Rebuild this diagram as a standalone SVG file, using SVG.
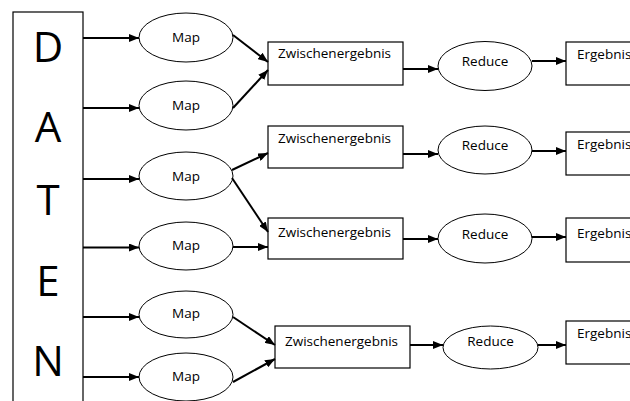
<svg xmlns="http://www.w3.org/2000/svg" width="630" height="401" viewBox="0 0 630 401">
<style>
.box{fill:#fff;stroke:#000;stroke-width:1.2}
.ell{fill:#fff;stroke:#000;stroke-width:1}
.big{font-family:"Open Sans","Liberation Sans",sans-serif;font-size:42px;fill:#000;text-anchor:middle}
.t{font-family:"Open Sans","Liberation Sans",sans-serif;font-size:13.5px;fill:#000}
.c{text-anchor:middle}
.con line{stroke:#000;stroke-width:2;marker-end:url(#ah)}
</style>
<defs>
<marker id="ah" viewBox="0 0 10 8" refX="10" refY="4" markerWidth="10" markerHeight="8" markerUnits="userSpaceOnUse" orient="auto">
<path d="M0,0 L10,4 L0,8 z" fill="#000"/>
</marker>
</defs>
<rect width="630" height="401" fill="#fff"/>
<g id="daten">
<rect class="box" x="13" y="12" width="70" height="400"/>
<text class="big" x="48" y="62">D</text>
<text class="big" x="48" y="142">A</text>
<text class="big" x="48" y="215">T</text>
<text class="big" x="48" y="296">E</text>
<text class="big" x="48" y="376">N</text>
</g>
<g id="map1"><ellipse class="ell" cx="186" cy="37.5" rx="47" ry="24.5"/><text class="t c" x="186" y="42">Map</text></g>
<g id="map2"><ellipse class="ell" cx="186" cy="105.5" rx="47" ry="24.5"/><text class="t c" x="186" y="110">Map</text></g>
<g id="map3"><ellipse class="ell" cx="186" cy="176" rx="47" ry="24"/><text class="t c" x="186" y="181">Map</text></g>
<g id="map4"><ellipse class="ell" cx="186" cy="246" rx="47" ry="24"/><text class="t c" x="186" y="250">Map</text></g>
<g id="map5"><ellipse class="ell" cx="186" cy="314.5" rx="47" ry="23.5"/><text class="t c" x="186" y="318">Map</text></g>
<g id="map6"><ellipse class="ell" cx="186" cy="377" rx="47" ry="24"/><text class="t c" x="186" y="381">Map</text></g>
<g id="zw1"><rect class="box" x="268" y="42" width="135" height="43"/><text class="t" x="278" y="58">Zwischenergebnis</text></g>
<g id="zw2"><rect class="box" x="268" y="126" width="135" height="42"/><text class="t" x="278" y="143">Zwischenergebnis</text></g>
<g id="zw3"><rect class="box" x="268" y="218" width="135" height="41"/><text class="t" x="278" y="237">Zwischenergebnis</text></g>
<g id="zw4"><rect class="box" x="275" y="326" width="135" height="42"/><text class="t" x="285" y="346">Zwischenergebnis</text></g>
<g id="red1"><ellipse class="ell" cx="485" cy="66" rx="47" ry="24.5"/><text class="t c" x="485" y="66">Reduce</text></g>
<g id="red2"><ellipse class="ell" cx="485" cy="150" rx="47" ry="24"/><text class="t c" x="485" y="150">Reduce</text></g>
<g id="red3"><ellipse class="ell" cx="485" cy="238.5" rx="47" ry="24.5"/><text class="t c" x="485" y="239">Reduce</text></g>
<g id="red4"><ellipse class="ell" cx="490.5" cy="347.5" rx="47.5" ry="21.5"/><text class="t c" x="490.5" y="346">Reduce</text></g>
<g id="erg1"><rect class="box" x="566" y="42" width="80" height="43"/><text class="t" x="577" y="59">Ergebnis</text></g>
<g id="erg2"><rect class="box" x="566" y="132" width="80" height="43"/><text class="t" x="577" y="149">Ergebnis</text></g>
<g id="erg3"><rect class="box" x="566" y="218" width="80" height="44"/><text class="t" x="577" y="238">Ergebnis</text></g>
<g id="erg4"><rect class="box" x="566" y="321" width="80" height="43"/><text class="t" x="577" y="338">Ergebnis</text></g>
<g class="con" id="connectors">
<line x1="83" y1="38" x2="139" y2="38"/>
<line x1="83" y1="108" x2="139" y2="108"/>
<line x1="83" y1="179" x2="139" y2="179"/>
<line x1="83" y1="247.5" x2="139" y2="247.5"/>
<line x1="83" y1="317" x2="139" y2="317"/>
<line x1="83" y1="377" x2="139" y2="377"/>
<line x1="233" y1="35" x2="268" y2="62"/>
<line x1="233" y1="108" x2="268" y2="70"/>
<line x1="232" y1="170" x2="268" y2="153"/>
<line x1="232" y1="178" x2="268" y2="232"/>
<line x1="233" y1="247" x2="268" y2="247"/>
<line x1="233" y1="317" x2="275" y2="345"/>
<line x1="233" y1="382" x2="275" y2="359"/>
<line x1="403" y1="69" x2="438" y2="69"/>
<line x1="403" y1="154" x2="438" y2="154"/>
<line x1="403" y1="239" x2="438" y2="239"/>
<line x1="410" y1="345" x2="443" y2="345"/>
<line x1="532" y1="61" x2="566" y2="61"/>
<line x1="532" y1="151" x2="566" y2="151"/>
<line x1="532" y1="237" x2="566" y2="237"/>
<line x1="538" y1="345" x2="566" y2="345"/>
</g>
</svg>
